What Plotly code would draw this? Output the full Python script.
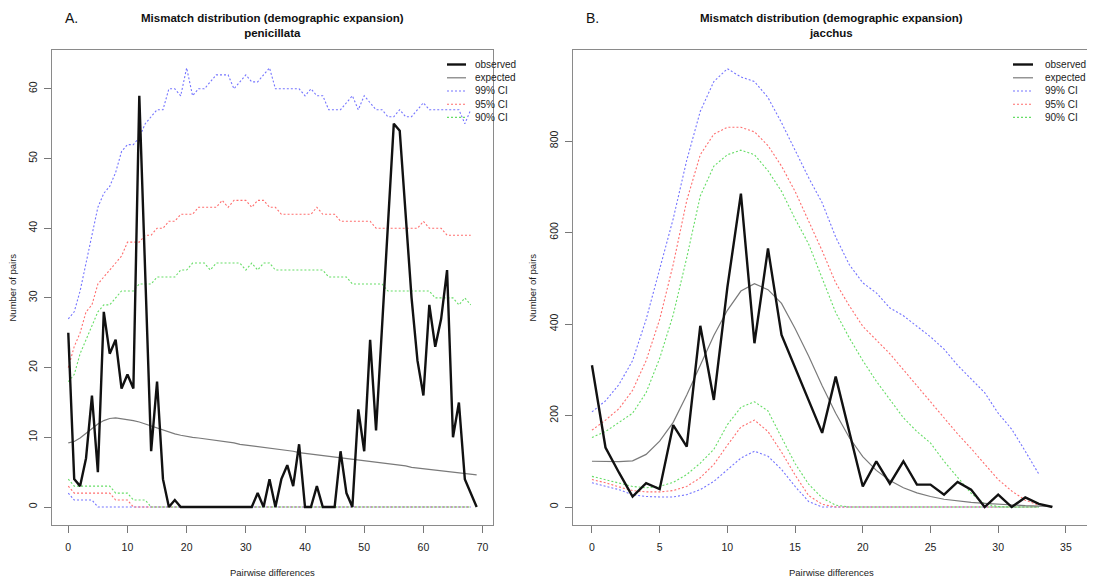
import plotly.graph_objects as go

# ---------------- Panel A: penicillata ----------------
diff_a = list(range(70))          # pairwise differences 0..69
diff_a_ci = list(range(69))       # CI lines 0..68
observed_a = [25, 4, 3, 7, 16, 5, 28, 22, 24, 17, 19, 17, 59, 33, 8, 18, 4, 0, 1, 0,
              0, 0, 0, 0, 0, 0, 0, 0, 0, 0,
              0, 0, 2, 0, 4, 0, 4, 6, 3, 9,
              0, 0, 3, 0, 0, 0, 8, 2, 0, 14,
              8, 24, 11, 26, 40, 55, 54, 42, 30, 21,
              16, 29, 23, 27, 34, 10, 15, 4, 2, 0]
expected_a = [9.2, 9.4, 9.9, 10.6, 11.3, 11.9, 12.4, 12.7, 12.8, 12.7,
              12.6, 12.4, 12.2, 11.9, 11.6, 11.3, 11.0, 10.8, 10.5, 10.3,
              10.1, 10.0, 9.9, 9.8, 9.7, 9.6, 9.5, 9.3, 9.2, 9.0,
              8.9, 8.8, 8.7, 8.6, 8.4, 8.3, 8.2, 8.1, 8.0, 7.8,
              7.7, 7.6, 7.5, 7.4, 7.3, 7.2, 7.1, 7.0, 6.8, 6.7,
              6.6, 6.5, 6.4, 6.3, 6.2, 6.1, 6.0, 5.9, 5.7, 5.6,
              5.5, 5.4, 5.3, 5.2, 5.1, 5.0, 4.9, 4.8, 4.7, 4.6]
ci99_hi_a = [27, 28, 31, 35, 39, 43, 45, 46, 48, 51,
             52, 52, 53, 55, 56, 57, 57, 60, 60, 59,
             63, 59, 60, 60, 61, 62, 62, 62, 60, 61,
             62, 61, 61, 62, 63, 60, 60, 60, 60, 60,
             59, 60, 59, 59, 57, 57, 57, 58, 59, 57,
             59, 58, 57, 57, 56, 56, 57, 56, 56, 57,
             58, 57, 57, 57, 57, 57, 57, 55, 57]
ci95_hi_a = [20, 23, 25, 28, 29, 32, 33, 34, 35, 36,
             38, 38, 38, 39, 39, 40, 40, 41, 41, 42,
             42, 42, 43, 43, 43, 43, 44, 43, 44, 44,
             44, 43, 44, 44, 43, 43, 42, 42, 42, 42,
             42, 42, 43, 42, 42, 42, 41, 41, 41, 41,
             41, 41, 40, 40, 40, 40, 40, 40, 40, 40,
             41, 40, 40, 40, 39, 39, 39, 39, 39]
ci90_hi_a = [18, 19, 22, 24, 26, 28, 29, 29, 30, 31,
             31, 31, 32, 32, 32, 33, 33, 33, 33, 34,
             34, 35, 35, 35, 34, 35, 35, 35, 35, 35,
             34, 35, 34, 35, 35, 34, 34, 34, 34, 34,
             34, 34, 34, 34, 33, 33, 33, 33, 32, 32,
             32, 32, 32, 32, 31, 31, 31, 31, 31, 31,
             31, 31, 30, 30, 30, 30, 29, 30, 29]
ci99_lo_a = [2, 1, 1, 1, 1, 0, 0, 0, 0, 0,
             0, 0, 0, 0, 0, 0, 0, 0, 0, 0,
             0, 0, 0, 0, 0, 0, 0, 0, 0, 0,
             0, 0, 0, 0, 0, 0, 0, 0, 0, 0,
             0, 0, 0, 0, 0, 0, 0, 0, 0, 0,
             0, 0, 0, 0, 0, 0, 0, 0, 0, 0,
             0, 0, 0, 0, 0, 0, 0, 0, 0]
ci95_lo_a = [3, 2, 2, 2, 2, 2, 2, 2, 1, 1,
             1, 0, 0, 0, 0, 0, 0, 0, 0, 0,
             0, 0, 0, 0, 0, 0, 0, 0, 0, 0,
             0, 0, 0, 0, 0, 0, 0, 0, 0, 0,
             0, 0, 0, 0, 0, 0, 0, 0, 0, 0,
             0, 0, 0, 0, 0, 0, 0, 0, 0, 0,
             0, 0, 0, 0, 0, 0, 0, 0, 0]
ci90_lo_a = [4, 3, 3, 3, 3, 3, 3, 3, 2, 2,
             2, 1, 1, 1, 0, 0, 0, 0, 0, 0,
             0, 0, 0, 0, 0, 0, 0, 0, 0, 0,
             0, 0, 0, 0, 0, 0, 0, 0, 0, 0,
             0, 0, 0, 0, 0, 0, 0, 0, 0, 0,
             0, 0, 0, 0, 0, 0, 0, 0, 0, 0,
             0, 0, 0, 0, 0, 0, 0, 0, 0]

# ---------------- Panel B: jacchus ----------------
diff_b = list(range(35))          # 0..34
diff_b_ci = list(range(34))       # 0..33
observed_b = [310, 130, 75, 23, 52, 39, 179, 132, 396, 234,
              480, 685, 358, 565, 376, 305, 235, 162, 285, 165,
              45, 100, 51, 100, 49, 49, 27, 55, 38, 0,
              27, 0, 21, 7, 0]
expected_b = [100, 99, 99, 101, 115, 144, 185, 245, 310, 375,
              430, 472, 488, 475, 445, 390, 330, 265, 205, 152,
              110, 80, 58, 42, 31, 23, 17, 13, 10, 8,
              6, 4, 3, 2, 1.5]
ci99_hi_b = [208, 232, 268, 320, 410, 520, 630, 758, 865, 930,
             958, 940, 930, 895, 840, 780, 720, 665, 590, 530,
             490, 468, 435, 418, 395, 372, 345, 310, 280, 250,
             205, 170, 122, 72]
ci95_hi_b = [168, 190, 215, 255, 320, 410, 530, 670, 770, 815,
             830, 830, 820, 790, 745, 690, 625, 560, 490, 440,
             395, 365, 335, 300, 265, 230, 195, 160, 128, 95,
             60, 35, 15, 4]
ci90_hi_b = [152, 165, 185, 205, 250, 325, 420, 545, 680, 745,
             770, 780, 770, 735, 690, 630, 575, 500, 425, 370,
             320, 275, 235, 195, 165, 140, 100, 65, 30, 7,
             1, 0, 0, 0]
ci99_lo_b = [53, 45, 38, 27, 23, 22, 22, 27, 38, 56,
             82, 107, 122, 111, 82, 45, 12, 0, 0, 0,
             0, 0, 0, 0, 0, 0, 0, 0, 0, 0,
             0, 0, 0, 0]
ci95_lo_b = [60, 53, 44, 36, 33, 33, 36, 45, 64, 93,
             135, 175, 190, 165, 120, 70, 25, 6, 0, 0,
             0, 0, 0, 0, 0, 0, 0, 0, 0, 0,
             0, 0, 0, 0]
ci90_lo_b = [67, 60, 53, 45, 42, 45, 54, 71, 96, 126,
             180, 218, 230, 210, 152, 95, 50, 20, 4, 0,
             0, 0, 0, 0, 0, 0, 0, 0, 0, 0,
             0, 0, 0, 0]

ticks_x_a = [0, 10, 20, 30, 40, 50, 60, 70]
ticks_y_a = [0, 10, 20, 30, 40, 50, 60]
ticks_x_b = [0, 5, 10, 15, 20, 25, 30, 35]
ticks_y_b = [0, 200, 400, 600, 800]

legend_labels = ["observed", "expected", "99% CI", "95% CI", "90% CI"]

# ---------------- styling ----------------
WIN_W, WIN_H = 1095, 581
OFF = 8                       # default page body margin
W, H = WIN_W - OFF, WIN_H - OFF
FONT = "Liberation Sans, Arial, Helvetica, sans-serif"
C_OBS = "#111111"
C_EXP = "#7a7a7a"
C_99 = "#7474ff"
C_95 = "#ff6e6e"
C_90 = "#66dd66"
DOT = "2px,2px"

def px_x(p):
    return (p - OFF) / W

def px_y(p):
    return 1 - (p - OFF) / H

fig = go.Figure()

def add_panel(xs, xci, obs, exp, hi99, hi95, hi90, lo99, lo95, lo90, xa, ya):
    for lo, hi, col in [(lo99, hi99, C_99), (lo95, hi95, C_95), (lo90, hi90, C_90)]:
        for ys in (hi, lo):
            fig.add_trace(go.Scatter(x=xci, y=ys, mode="lines", xaxis=xa, yaxis=ya,
                                     line=dict(color=col, width=1.1, dash=DOT),
                                     showlegend=False, hoverinfo="skip"))
    fig.add_trace(go.Scatter(x=xs, y=exp, mode="lines", xaxis=xa, yaxis=ya,
                             line=dict(color=C_EXP, width=1.2), showlegend=False))
    fig.add_trace(go.Scatter(x=xs, y=obs, mode="lines", xaxis=xa, yaxis=ya,
                             line=dict(color=C_OBS, width=2.4), showlegend=False))

add_panel(diff_a, diff_a_ci, observed_a, expected_a, ci99_hi_a, ci95_hi_a, ci90_hi_a,
          ci99_lo_a, ci95_lo_a, ci90_lo_a, "x", "y")
add_panel(diff_b, diff_b_ci, observed_b, expected_b, ci99_hi_b, ci95_hi_b, ci90_hi_b,
          ci99_lo_b, ci95_lo_b, ci90_lo_b, "x2", "y2")

ydom = [px_y(525), px_y(50)]
common_axis = dict(showgrid=False, zeroline=False, showline=True, mirror=True,
                   linecolor="#8a8a8a", linewidth=1, ticks="outside", ticklen=7,
                   tickcolor="#777777", tickwidth=1,
                   tickfont=dict(family=FONT, size=10.5, color="#222222"))

fig.update_layout(
    width=W, height=H,
    margin=dict(l=0, r=0, t=0, b=0),
    paper_bgcolor="white", plot_bgcolor="white",
    showlegend=False,
    xaxis=dict(domain=[px_x(52), px_x(493)], range=[-2.75, 71.76], tickvals=ticks_x_a,
               anchor="y", ticklabelstandoff=5, **common_axis),
    yaxis=dict(domain=ydom, range=[-2.58, 65.57], tickvals=ticks_y_a, tickangle=-90,
               anchor="x", ticklabelstandoff=3, **common_axis),
    xaxis2=dict(domain=[px_x(573), px_x(1090)], range=[-1.4, 36.78], tickvals=ticks_x_b,
                anchor="y2", ticklabelstandoff=5, **common_axis),
    yaxis2=dict(domain=ydom, range=[-39.3, 998.9], tickvals=ticks_y_b, tickangle=-90,
                anchor="x2", ticklabelstandoff=3, **common_axis),
)

ann = []
# panel titles
for cx, sp in [(272.5, "penicillata"), (831.5, "jacchus")]:
    ann.append(dict(x=px_x(cx), y=px_y(25), xref="paper", yref="paper",
                    text="<b>Mismatch distribution (demographic expansion)</b><br><b>" + sp + "</b>",
                    showarrow=False, xanchor="center", yanchor="middle",
                    font=dict(family=FONT, size=11.5, color="#111111")))
# panel letters
for lx, lt in [(63, "A."), (584, "B.")]:
    ann.append(dict(x=px_x(lx), y=px_y(18), xref="paper", yref="paper", text=lt,
                    showarrow=False, xanchor="left", yanchor="middle",
                    font=dict(family=FONT, size=14, color="#111111")))
# axis titles
for cx in (272.5, 831.5):
    ann.append(dict(x=px_x(cx), y=px_y(572), xref="paper", yref="paper",
                    text="Pairwise differences", showarrow=False,
                    xanchor="center", yanchor="middle",
                    font=dict(family=FONT, size=9.5, color="#222222")))
for lx in (12, 532):
    ann.append(dict(x=px_x(lx), y=px_y(287.5), xref="paper", yref="paper",
                    text="Number of pairs", showarrow=False, textangle=-90,
                    xanchor="center", yanchor="middle",
                    font=dict(family=FONT, size=9.5, color="#222222")))

# manual legends (R-style, no box)
leg_styles = [(C_OBS, 2.4, "solid"), (C_EXP, 1.2, "solid"),
              (C_99, 1.1, DOT), (C_95, 1.1, DOT), (C_90, 1.1, DOT)]
leg_rows = [64.5, 77.8, 91.0, 104.2, 117.4]
shapes = []
for (sx0, sx1, tx) in [(447, 466, 473), (1013, 1033, 1043)]:
    for lab, (col, wdt, dsh), ry in zip(legend_labels, leg_styles, leg_rows):
        shapes.append(dict(type="line", xref="paper", yref="paper",
                           x0=px_x(sx0), x1=px_x(sx1), y0=px_y(ry), y1=px_y(ry),
                           line=dict(color=col, width=wdt, dash=dsh)))
        ann.append(dict(x=px_x(tx), y=px_y(ry), xref="paper", yref="paper", text=lab,
                        showarrow=False, xanchor="left", yanchor="middle",
                        font=dict(family=FONT, size=10, color="#222222")))

fig.update_layout(annotations=ann, shapes=shapes)
fig.write_html("out.html")
